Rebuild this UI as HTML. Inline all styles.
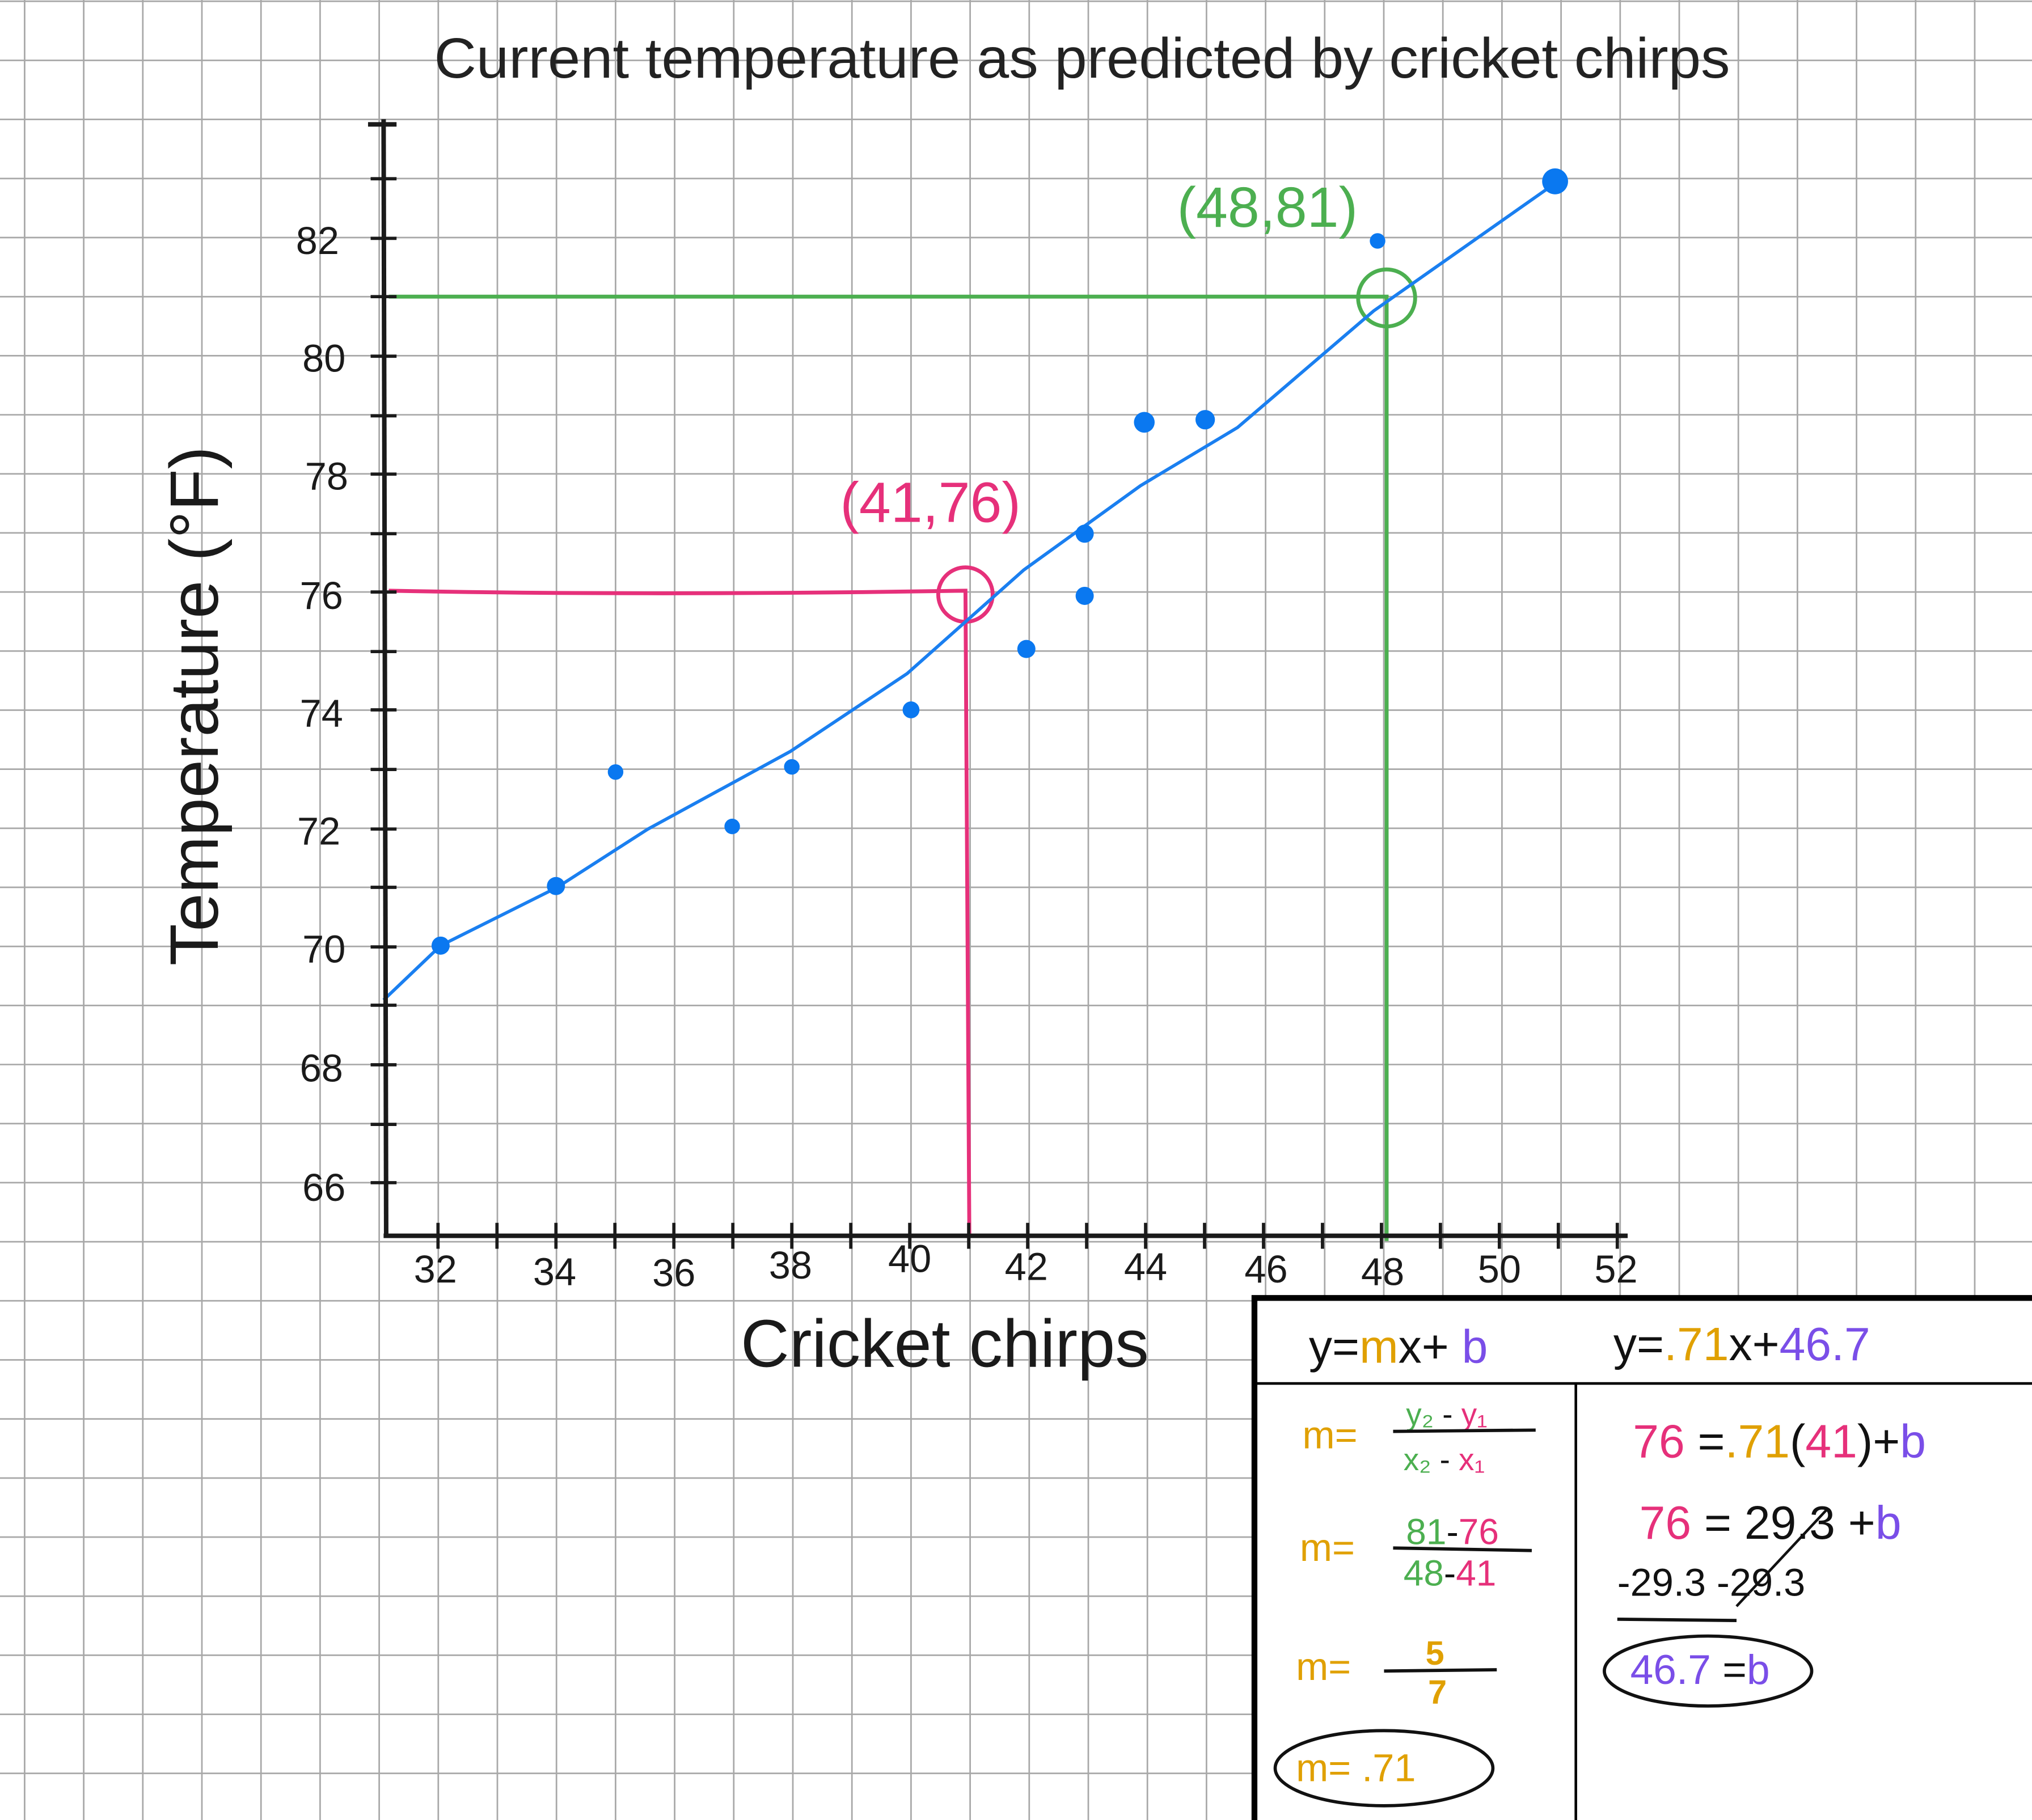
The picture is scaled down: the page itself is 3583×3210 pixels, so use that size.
<!DOCTYPE html>
<html><head><meta charset="utf-8"><style>
html,body{margin:0;padding:0;background:#fff;}
svg{display:block;}
text{font-family:"Liberation Sans","DejaVu Sans",sans-serif;}
</style></head><body>
<svg width="3583" height="3210" viewBox="0 0 1568 1405" preserveAspectRatio="none" xmlns="http://www.w3.org/2000/svg">
<rect width="1568" height="1405" fill="#fff"/>
<g stroke="#a8a8a8" stroke-width="1.2">
<line x1="19" y1="0" x2="19" y2="1405"/><line x1="64.6" y1="0" x2="64.6" y2="1405"/><line x1="110.2" y1="0" x2="110.2" y2="1405"/><line x1="155.8" y1="0" x2="155.8" y2="1405"/><line x1="201.4" y1="0" x2="201.4" y2="1405"/><line x1="247" y1="0" x2="247" y2="1405"/><line x1="292.6" y1="0" x2="292.6" y2="1405"/><line x1="338.2" y1="0" x2="338.2" y2="1405"/><line x1="383.8" y1="0" x2="383.8" y2="1405"/><line x1="429.4" y1="0" x2="429.4" y2="1405"/><line x1="475" y1="0" x2="475" y2="1405"/><line x1="520.6" y1="0" x2="520.6" y2="1405"/><line x1="566.2" y1="0" x2="566.2" y2="1405"/><line x1="611.8" y1="0" x2="611.8" y2="1405"/><line x1="657.4" y1="0" x2="657.4" y2="1405"/><line x1="703" y1="0" x2="703" y2="1405"/><line x1="748.6" y1="0" x2="748.6" y2="1405"/><line x1="794.2" y1="0" x2="794.2" y2="1405"/><line x1="839.8" y1="0" x2="839.8" y2="1405"/><line x1="885.4" y1="0" x2="885.4" y2="1405"/><line x1="931" y1="0" x2="931" y2="1405"/><line x1="976.6" y1="0" x2="976.6" y2="1405"/><line x1="1022.2" y1="0" x2="1022.2" y2="1405"/><line x1="1067.8" y1="0" x2="1067.8" y2="1405"/><line x1="1113.4" y1="0" x2="1113.4" y2="1405"/><line x1="1159" y1="0" x2="1159" y2="1405"/><line x1="1204.6" y1="0" x2="1204.6" y2="1405"/><line x1="1250.2" y1="0" x2="1250.2" y2="1405"/><line x1="1295.8" y1="0" x2="1295.8" y2="1405"/><line x1="1341.4" y1="0" x2="1341.4" y2="1405"/><line x1="1387" y1="0" x2="1387" y2="1405"/><line x1="1432.6" y1="0" x2="1432.6" y2="1405"/><line x1="1478.2" y1="0" x2="1478.2" y2="1405"/><line x1="1523.8" y1="0" x2="1523.8" y2="1405"/>
<line x1="0" y1="1" x2="1568" y2="1"/><line x1="0" y1="46.6" x2="1568" y2="46.6"/><line x1="0" y1="92.2" x2="1568" y2="92.2"/><line x1="0" y1="137.8" x2="1568" y2="137.8"/><line x1="0" y1="183.4" x2="1568" y2="183.4"/><line x1="0" y1="229" x2="1568" y2="229"/><line x1="0" y1="274.6" x2="1568" y2="274.6"/><line x1="0" y1="320.2" x2="1568" y2="320.2"/><line x1="0" y1="365.8" x2="1568" y2="365.8"/><line x1="0" y1="411.4" x2="1568" y2="411.4"/><line x1="0" y1="457" x2="1568" y2="457"/><line x1="0" y1="502.6" x2="1568" y2="502.6"/><line x1="0" y1="548.2" x2="1568" y2="548.2"/><line x1="0" y1="593.8" x2="1568" y2="593.8"/><line x1="0" y1="639.4" x2="1568" y2="639.4"/><line x1="0" y1="685" x2="1568" y2="685"/><line x1="0" y1="730.6" x2="1568" y2="730.6"/><line x1="0" y1="776.2" x2="1568" y2="776.2"/><line x1="0" y1="821.8" x2="1568" y2="821.8"/><line x1="0" y1="867.4" x2="1568" y2="867.4"/><line x1="0" y1="913" x2="1568" y2="913"/><line x1="0" y1="958.6" x2="1568" y2="958.6"/><line x1="0" y1="1004.2" x2="1568" y2="1004.2"/><line x1="0" y1="1049.8" x2="1568" y2="1049.8"/><line x1="0" y1="1095.4" x2="1568" y2="1095.4"/><line x1="0" y1="1141" x2="1568" y2="1141"/><line x1="0" y1="1186.6" x2="1568" y2="1186.6"/><line x1="0" y1="1232.2" x2="1568" y2="1232.2"/><line x1="0" y1="1277.8" x2="1568" y2="1277.8"/><line x1="0" y1="1323.4" x2="1568" y2="1323.4"/><line x1="0" y1="1369" x2="1568" y2="1369"/>
</g>

<text x="835" y="60" font-size="44" text-anchor="middle" fill="#222" textLength="1000" lengthAdjust="spacingAndGlyphs">Current temperature as predicted by cricket chirps</text>

<path d="M300 229 L1070 229 L1070 958" fill="none" stroke="#4caf50" stroke-width="3"/>
<circle cx="1070" cy="230" r="22" fill="none" stroke="#4caf50" stroke-width="3"/>
<path d="M300 456 Q500 460 745 456 L748 955" fill="none" stroke="#e6307a" stroke-width="3"/>
<circle cx="745" cy="459" r="21" fill="none" stroke="#e6307a" stroke-width="3"/>
<text x="718" y="403" font-size="44" text-anchor="middle" fill="#e6307a">(41,76)</text>
<text x="978" y="175" font-size="44" text-anchor="middle" fill="#4caf50">(48,81)</text>

<path d="M296 772 L340 730 L430 685 L500 640 L610 580 L700 520 L790 440 L880 375 L955 330 L1060 240 L1205 138" fill="none" stroke="#1a7ff0" stroke-width="2.5"/>

<g fill="#0a78f0">
<circle cx="340" cy="730" r="7"/><circle cx="429" cy="684" r="7"/><circle cx="475" cy="596" r="6"/><circle cx="565" cy="638" r="6"/><circle cx="611" cy="592" r="6"/><circle cx="703" cy="548" r="6.5"/><circle cx="792" cy="501" r="7"/><circle cx="837" cy="460" r="7"/><circle cx="837" cy="412" r="7"/><circle cx="883" cy="326" r="8"/><circle cx="930" cy="324" r="7.5"/><circle cx="1063" cy="186" r="6"/><circle cx="1200" cy="140" r="10"/>
</g>

<g stroke="#1a1a1a" stroke-width="3.5" fill="none">
<line x1="296" y1="92" x2="298" y2="955"/>
<line x1="296" y1="954" x2="1256" y2="954"/>
<line x1="284" y1="96" x2="306" y2="96"/>
</g>
<g stroke="#1a1a1a" stroke-width="2.5">
<line x1="286" y1="138" x2="306" y2="138"/><line x1="286" y1="184" x2="306" y2="184"/><line x1="286" y1="229" x2="306" y2="229"/><line x1="286" y1="275" x2="306" y2="275"/><line x1="286" y1="321" x2="306" y2="321"/><line x1="286" y1="366" x2="306" y2="366"/><line x1="286" y1="412" x2="306" y2="412"/><line x1="286" y1="457" x2="306" y2="457"/><line x1="286" y1="503" x2="306" y2="503"/><line x1="286" y1="548" x2="306" y2="548"/><line x1="286" y1="594" x2="306" y2="594"/><line x1="286" y1="640" x2="306" y2="640"/><line x1="286" y1="685" x2="306" y2="685"/><line x1="286" y1="731" x2="306" y2="731"/><line x1="286" y1="776" x2="306" y2="776"/><line x1="286" y1="822" x2="306" y2="822"/><line x1="286" y1="868" x2="306" y2="868"/><line x1="286" y1="913" x2="306" y2="913"/>
<line x1="338" y1="944" x2="338" y2="964"/><line x1="383.5" y1="944" x2="383.5" y2="964"/><line x1="429" y1="944" x2="429" y2="964"/><line x1="474.5" y1="944" x2="474.5" y2="964"/><line x1="520" y1="944" x2="520" y2="964"/><line x1="565.5" y1="944" x2="565.5" y2="964"/><line x1="611" y1="944" x2="611" y2="964"/><line x1="656.5" y1="944" x2="656.5" y2="964"/><line x1="702" y1="944" x2="702" y2="964"/><line x1="747.5" y1="944" x2="747.5" y2="964"/><line x1="793" y1="944" x2="793" y2="964"/><line x1="838.5" y1="944" x2="838.5" y2="964"/><line x1="884" y1="944" x2="884" y2="964"/><line x1="929.5" y1="944" x2="929.5" y2="964"/><line x1="975" y1="944" x2="975" y2="964"/><line x1="1020.5" y1="944" x2="1020.5" y2="964"/><line x1="1066" y1="944" x2="1066" y2="964"/><line x1="1111.5" y1="944" x2="1111.5" y2="964"/><line x1="1157" y1="944" x2="1157" y2="964"/><line x1="1202.5" y1="944" x2="1202.5" y2="964"/><line x1="1248" y1="944" x2="1248" y2="964"/>
</g>
<g font-size="30" fill="#1a1a1a" text-anchor="middle">
<text x="245" y="196">82</text><text x="250" y="287">80</text><text x="252" y="378">78</text><text x="248" y="470">76</text><text x="248" y="561">74</text><text x="246" y="652">72</text><text x="250" y="743">70</text><text x="248" y="835">68</text><text x="250" y="927">66</text>
<text x="336" y="990">32</text><text x="428" y="992">34</text><text x="520" y="993">36</text><text x="610" y="987">38</text><text x="702" y="982">40</text><text x="792" y="988">42</text><text x="884" y="988">44</text><text x="977" y="990">46</text><text x="1067" y="992">48</text><text x="1157" y="990">50</text><text x="1247" y="990">52</text>
</g>
<text x="729" y="1055" font-size="52" text-anchor="middle" fill="#1a1a1a">Cricket chirps</text>
<text transform="translate(168,545) rotate(-90)" font-size="53" text-anchor="middle" fill="#1a1a1a">Temperature (°F)</text>

<rect x="968" y="1002" width="610" height="410" fill="#fff" stroke="#000" stroke-width="4.5"/>
<line x1="968" y1="1068" x2="1568" y2="1068" stroke="#000" stroke-width="2"/>
<line x1="1216" y1="1068" x2="1216" y2="1405" stroke="#000" stroke-width="2"/>
<g font-size="36">
<text x="1010" y="1052" fill="#111">y=<tspan fill="#e0a000">m</tspan>x+ <tspan fill="#7a4ee8">b</tspan></text>
<text x="1245" y="1050" fill="#111">y=<tspan fill="#e0a000">.71</tspan>x+<tspan fill="#7a4ee8">46.7</tspan></text>
</g>
<g font-size="30">
<text x="1005" y="1118" fill="#e0a000">m=</text>
<text x="1085" y="1100" font-size="24" fill="#4caf50">y₂ <tspan fill="#111">-</tspan> <tspan fill="#e6307a">y₁</tspan></text>
<line x1="1075" y1="1105" x2="1185" y2="1104" stroke="#111" stroke-width="2.5"/>
<text x="1083" y="1135" font-size="24" fill="#4caf50">x₂ <tspan fill="#111">-</tspan> <tspan fill="#e6307a">x₁</tspan></text>
<text x="1003" y="1205" fill="#e0a000">m=</text>
<text x="1085" y="1192" font-size="28" fill="#4caf50">81<tspan fill="#111">-</tspan><tspan fill="#e6307a">76</tspan></text>
<line x1="1075" y1="1195" x2="1182" y2="1197" stroke="#111" stroke-width="2.5"/>
<text x="1083" y="1224" font-size="28" fill="#4caf50">48<tspan fill="#111">-</tspan><tspan fill="#e6307a">41</tspan></text>
<text x="1000" y="1297" fill="#e0a000">m=</text>
<text x="1100" y="1285" fill="#e0a000" font-weight="bold" font-size="26">5</text>
<line x1="1068" y1="1290" x2="1155" y2="1289" stroke="#111" stroke-width="2.5"/>
<text x="1102" y="1315" fill="#e0a000" font-weight="bold" font-size="26">7</text>
<ellipse cx="1068" cy="1365" rx="84" ry="29" fill="none" stroke="#111" stroke-width="2.5"/>
<text x="1000" y="1375" fill="#e0a000">m=  .71</text>
<text x="1260" y="1125" font-size="36" fill="#e6307a">76 <tspan fill="#111">=</tspan><tspan fill="#e0a000">.71</tspan><tspan fill="#111">(</tspan>41<tspan fill="#111">)+</tspan><tspan fill="#7a4ee8">b</tspan></text>
<text x="1265" y="1188" font-size="36" fill="#e6307a">76 <tspan fill="#111">= 29.3 +</tspan><tspan fill="#7a4ee8">b</tspan></text>
<text x="1248" y="1232" font-size="30" fill="#111">-29.3  -29.3</text>
<line x1="1340" y1="1240" x2="1410" y2="1165" stroke="#111" stroke-width="2"/>
<line x1="1248" y1="1250" x2="1340" y2="1251" stroke="#111" stroke-width="2.5"/>
<ellipse cx="1318" cy="1290" rx="80" ry="27" fill="none" stroke="#111" stroke-width="2.5"/>
<text x="1258" y="1300" font-size="32" fill="#7a4ee8">46.7 <tspan fill="#111">=</tspan>b</text>
</g>
</svg>
</body></html>
